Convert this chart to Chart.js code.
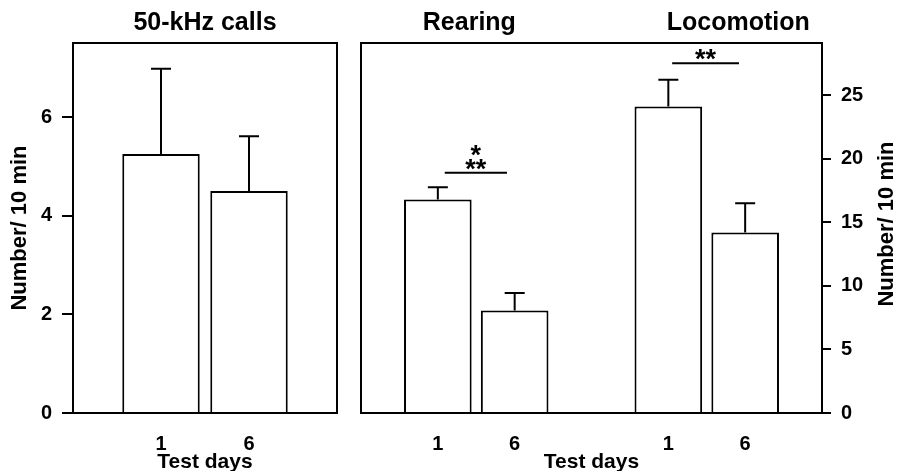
<!DOCTYPE html>
<html><head><meta charset="utf-8">
<script src="https://cdn.jsdelivr.net/npm/chart.js@4/dist/chart.umd.min.js"></script>
<style>
html,body{margin:0;padding:0;background:#fff;}
#wrap{position:relative;width:899px;height:471px;overflow:hidden;background:#fff;}
#c1box{position:absolute;left:0;top:0;width:356px;height:471px;}
#c2box{position:absolute;left:340px;top:0;width:559px;height:471px;}
</style></head><body>
<div id="wrap"><div id="c1box"><canvas id="c1"></canvas></div><div id="c2box"><canvas id="c2"></canvas></div></div>
<script>
// ---- data ----
const testDays = ['1', '6'];
const callsMean = [5.25, 4.5];
const callsSem = [1.73, 1.11];
const rearingMean = [16.8, 8.07];
const rearingSem = [0.95, 1.37];
const locomotionMean = [24.1, 14.2];
const locomotionSem = [2.1, 2.3];
const leftTicks = [0, 2, 4, 6];
const rightTicks = [0, 5, 10, 15, 20, 25];
const panelTitles = ['50-kHz calls', 'Rearing', 'Locomotion'];
const yTitle = 'Number/ 10 min';
const xTitle = 'Test days';
const sigRearing = ['*', '**'];
const sigLocomotion = ['**'];

const FONT = '"Liberation Sans", Arial, Helvetica, sans-serif';
Chart.defaults.font.family = FONT;
Chart.defaults.color = '#000';

// category layouts (empty slots give spacing)
const callsLabels = ['', testDays[0], testDays[1], ''];
const callsData = [null, callsMean[0], callsMean[1], null];
const callsErr = [null, callsSem[0], callsSem[1], null];
const behLabels = ['', testDays[0], testDays[1], '', testDays[0], testDays[1], ''];
const behData = [null, rearingMean[0], rearingMean[1], null, locomotionMean[0], locomotionMean[1], null];
const behErr = [null, rearingSem[0], rearingSem[1], null, locomotionSem[0], locomotionSem[1], null];

const errorBars = {
  id: 'errorBars',
  afterDatasetsDraw(chart) {
    const ctx = chart.ctx, ys = chart.scales.y;
    chart.data.datasets.forEach((ds, di) => {
      const meta = chart.getDatasetMeta(di);
      ds.data.forEach((v, i) => {
        if (v == null || ds.errors[i] == null) return;
        const el = meta.data[i];
        const top = ys.getPixelForValue(v + ds.errors[i]);
        ctx.save();
        ctx.strokeStyle = '#000'; ctx.lineWidth = 2;
        ctx.beginPath();
        ctx.moveTo(el.x, el.y); ctx.lineTo(el.x, top);
        ctx.moveTo(el.x - 10, top); ctx.lineTo(el.x + 10, top);
        ctx.stroke();
        ctx.restore();
      });
    });
  }
};
const frame = {
  id: 'frame',
  afterDraw(chart) {
    const a = chart.chartArea, ctx = chart.ctx;
    ctx.save(); ctx.strokeStyle = '#000'; ctx.lineWidth = 2;
    ctx.strokeRect(a.left, a.top, a.right - a.left, a.bottom - a.top);
    ctx.restore();
  }
};
const annotations = {
  id: 'annotations',
  afterDraw(chart, args, opts) {
    const ctx = chart.ctx, xs = chart.scales.x, ys = chart.scales.y;
    ctx.save();
    ctx.fillStyle = '#000'; ctx.textAlign = 'center';
    (opts.titles || []).forEach(t => {
      ctx.font = 'bold 25px ' + FONT;
      ctx.textBaseline = 'middle';
      ctx.fillText(t.text, xs.getPixelForValue(t.at), 23);
    });
    (opts.brackets || []).forEach(b => {
      const x1 = xs.getPixelForValue(b.from), x2 = xs.getPixelForValue(b.to);
      const y = ys.getPixelForValue(b.y);
      ctx.strokeStyle = '#000'; ctx.lineWidth = 2;
      ctx.beginPath(); ctx.moveTo(x1, y); ctx.lineTo(x2, y); ctx.stroke();
      ctx.font = 'bold 27px ' + FONT;
      ctx.textBaseline = 'alphabetic';
      const cx = (x1 + x2) / 2;
      const n = b.text.length;
      b.text.forEach((s, k) => {
        ctx.fillText(s, cx, y + 5 - (n - 1 - k) * 13.5);
      });
    });
    if (opts.rightTitle) {
      const a = chart.chartArea;
      ctx.translate(chart.width - 12, (a.top + a.bottom) / 2 - 4);
      ctx.rotate(-Math.PI / 2);
      ctx.font = 'bold 22px ' + FONT;
      ctx.textBaseline = 'middle';
      ctx.fillText(opts.rightTitle, 0, 0);
    }
    ctx.restore();
  }
};

function yAxis(max, ticks, position, width, tl) {
  return {
    position, min: 0, max,
    afterFit(s) { s.width = width; },
    afterBuildTicks(s) { s.ticks = ticks.map(v => ({value: v})); },
    ticks: { font: {size: 20, weight: 'bold'}, color: '#000', padding: 10 },
    grid: { drawOnChartArea: false, drawTicks: true, tickLength: tl, color: '#000', lineWidth: 2 },
    border: { display: true, color: '#000', width: 2 }
  };
}
function xAxis() {
  return {
    offset: false,
    afterFit(s) { s.height = 58; },
    grid: { display: false, drawTicks: false },
    border: { display: true, color: '#000', width: 2 },
    ticks: { font: {size: 20, weight: 'bold'}, color: '#000', padding: 19, maxRotation: 0, autoSkip: false },
    title: { display: true, text: xTitle, font: {size: 21, weight: 'bold', lineHeight: 1}, color: '#000', padding: {top: 0, bottom: -2} }
  };
}
function barDs(data, errs) {
  return {
    data, errors: errs,
    backgroundColor: '#fff', borderColor: '#000', borderWidth: 2,
    categoryPercentage: 1, barPercentage: 0.88
  };
}

new Chart(document.getElementById('c1'), {
  type: 'bar',
  data: { labels: callsLabels, datasets: [barDs(callsData, callsErr)] },
  options: {
    responsive: true, maintainAspectRatio: false, animation: false, devicePixelRatio: 1,
    layout: { padding: {left: 0, right: 19, top: 43, bottom: 0} },
    plugins: { legend: {display: false}, tooltip: {enabled: false}, title: {display: false},
      annotations: { titles: [{text: panelTitles[0], at: 1.5}] } },
    scales: {
      x: xAxis(),
      y: Object.assign(yAxis(7.5, leftTicks, 'left', 73, 11), {
        title: { display: true, text: yTitle, font: {size: 22, weight: 'bold', lineHeight: 1.2}, color: '#000', padding: {top: 7, bottom: 0} }
      })
    }
  },
  plugins: [errorBars, frame, annotations]
});

new Chart(document.getElementById('c2'), {
  type: 'bar',
  data: { labels: behLabels, datasets: [barDs(behData, behErr)] },
  options: {
    responsive: true, maintainAspectRatio: false, animation: false, devicePixelRatio: 1,
    layout: { padding: {left: 21, right: 0, top: 43, bottom: 0} },
    plugins: { legend: {display: false}, tooltip: {enabled: false}, title: {display: false},
      annotations: {
        titles: [{text: panelTitles[1], at: 1.41}, {text: panelTitles[2], at: 4.91}],
        brackets: [{from: 1.09, to: 1.9, y: 18.9, text: sigRearing}, {from: 4.05, to: 4.92, y: 27.5, text: sigLocomotion}],
        rightTitle: yTitle
      } },
    scales: {
      x: xAxis(),
      y: yAxis(29.1, rightTicks, 'right', 77, 9)
    }
  },
  plugins: [errorBars, frame, annotations]
});
</script>
</body></html>
